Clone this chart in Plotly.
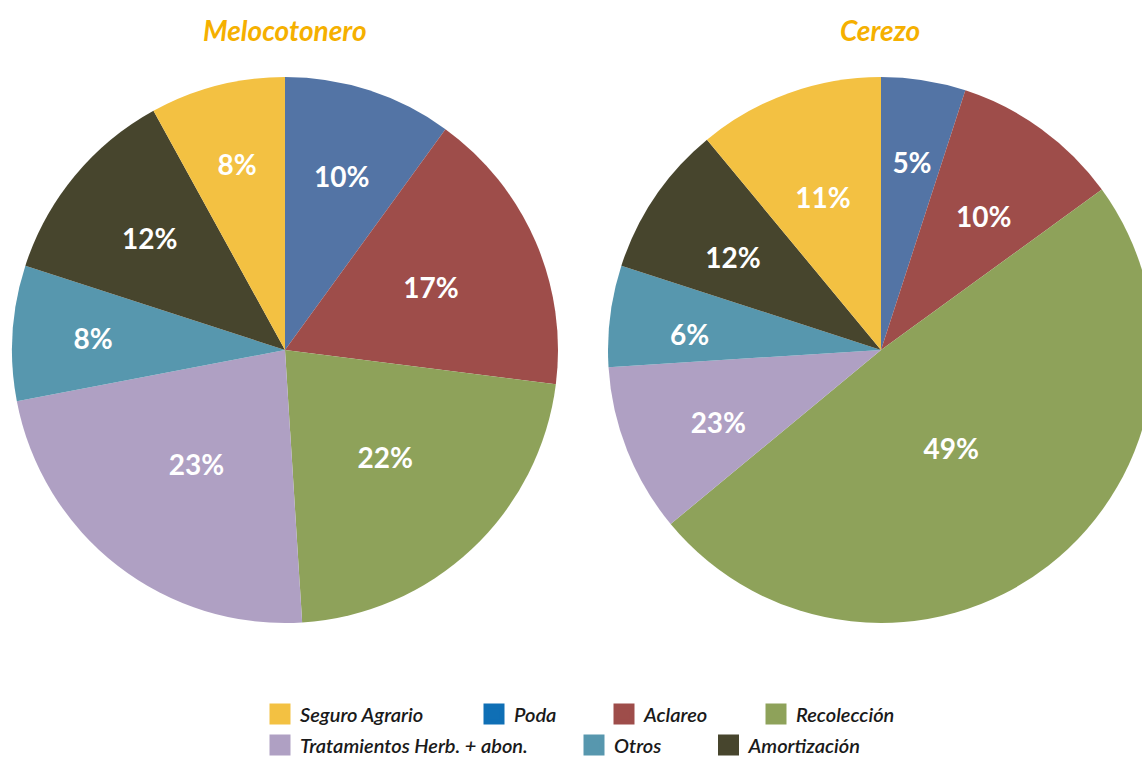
import plotly.graph_objects as go

categories = ["Poda", "Aclareo", "Recolección", "Tratamientos Herb. + abon.",
              "Otros", "Amortización", "Seguro Agrario"]
slice_colors = ["#5374A5", "#9E4D4A", "#8EA25A", "#AFA0C3", "#5797AE", "#47452D", "#F3C142"]

# Melocotonero shares (%)
melocotonero_values = [10, 17, 22, 23, 8, 12, 8]
melocotonero_labels = ["10%", "17%", "22%", "23%", "8%", "12%", "8%"]

# Cerezo: slice sizes as drawn, and the labels printed on them
cerezo_values = [5, 10, 49, 10, 6, 9, 11]
cerezo_labels = ["5%", "10%", "49%", "23%", "6%", "12%", "11%"]

# Legend order and swatch colours
legend_order = ["Seguro Agrario", "Poda", "Aclareo", "Recolección",
                "Tratamientos Herb. + abon.", "Otros", "Amortización"]
legend_colors = ["#F3C142", "#0F6FB5", "#9E4D4A", "#8EA25A", "#AFA0C3", "#5797AE", "#47452D"]

W, H = 1154, 758
FONT = "Lato"
TITLE_COLOR = "#F5B000"


def dom(cx, cy, r):
    return dict(x=[(cx - r) / W, (cx + r) / W], y=[(H - cy - r) / H, (H - cy + r) / H])


fig = go.Figure()

label_font = dict(family=FONT, size=28, color="white", weight="bold")

# (values, printed labels, centre x, label ring centre y, label ring radius)
pies = [
    (melocotonero_values, melocotonero_labels, 285, 350, 240),
    (cerezo_values, cerezo_labels, 881, 358, 229),
]
for values, labels_txt, cx, ty, r_text in pies:
    # coloured slices
    fig.add_trace(go.Pie(
        labels=categories, values=values, textinfo="none",
        sort=False, direction="clockwise", rotation=0,
        marker=dict(colors=slice_colors, line=dict(width=0)),
        showlegend=False, hoverinfo="label+percent",
        domain=dom(cx, 350, 273),
    ))
    # percentage labels, placed a bit nearer the centre
    fig.add_trace(go.Pie(
        labels=categories, values=values, text=labels_txt,
        textinfo="text", textposition="inside", insidetextorientation="horizontal",
        sort=False, direction="clockwise", rotation=0,
        marker=dict(colors=["rgba(0,0,0,0)"] * len(values), line=dict(width=0)),
        textfont=label_font, showlegend=False, hoverinfo="skip",
        domain=dom(cx, ty, r_text),
    ))

# Legend entries (one legend per entry to reproduce the flowing layout)
swatch_centers = [(280, 714), (494, 714), (624, 714), (776, 714),
                  (280, 745), (594, 745), (728.5, 745)]
layout_legends = {}
for i, (name, col) in enumerate(zip(legend_order, legend_colors)):
    key = "legend" if i == 0 else f"legend{i + 1}"
    fig.add_trace(go.Scatter(
        x=[None], y=[None], mode="markers", name=name,
        marker=dict(symbol="square", size=16, color=col, line=dict(width=5, color=col)),
        legend=key, showlegend=True, hoverinfo="skip",
    ))
    sx, sy = swatch_centers[i]
    layout_legends[key] = dict(
        x=(sx - 20) / W, y=(H - sy) / H, xanchor="left", yanchor="middle",
        orientation="h", bgcolor="rgba(0,0,0,0)", borderwidth=0,
        font=dict(family=FONT, size=20, color="#1A1A1A", style="italic", weight=600),
    )

fig.update_layout(
    width=W, height=H,
    margin=dict(l=0, r=0, t=0, b=0, autoexpand=False),
    paper_bgcolor="white", plot_bgcolor="white",
    xaxis=dict(visible=False), yaxis=dict(visible=False),
    annotations=[
        dict(text="<b><i>Melocotonero</i></b>", x=285 / W, y=(H - 30) / H,
             xref="paper", yref="paper", showarrow=False, xanchor="center", yanchor="middle",
             font=dict(family=FONT, size=28, color=TITLE_COLOR)),
        dict(text="<b><i>Cerezo</i></b>", x=880 / W, y=(H - 30) / H,
             xref="paper", yref="paper", showarrow=False, xanchor="center", yanchor="middle",
             font=dict(family=FONT, size=28, color=TITLE_COLOR)),
    ],
    **layout_legends,
)

# page without body margin; the chart area is cut at the window's right edge
post = (
    "document.documentElement.style.margin='0';document.body.style.margin='0';"
    "document.documentElement.style.overflow='hidden';document.body.style.overflow='hidden';"
    "var gd=document.getElementById('{plot_id}');"
    "gd.parentElement.style.width='1142px';gd.parentElement.style.overflow='hidden';"
)

fig.write_html("out.html", post_script=post, config={"displayModeBar": False})
